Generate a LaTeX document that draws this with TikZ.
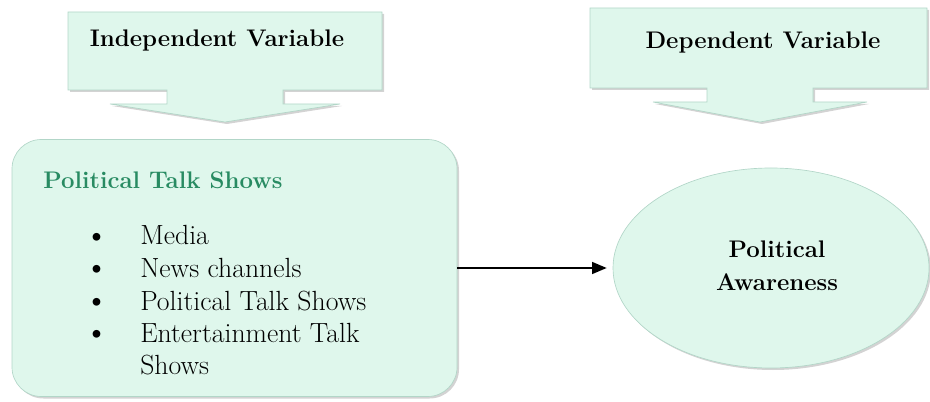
\documentclass[tikz,border=0pt]{standalone}
\usepackage{tikz}
\usepackage{xcolor}
\usetikzlibrary{arrows.meta,positioning,shapes.geometric,shadows}
\definecolor{mintFill}{RGB}{223,247,236}
\definecolor{mintEdge}{RGB}{178,214,200}
\definecolor{titleGreen}{RGB}{40,139,98}
\tikzset{
  panel/.style={fill=mintFill,draw=mintEdge,line width=.5pt,
    drop shadow={opacity=.35,shadow xshift=1.5pt,shadow yshift=-1.5pt}},
  headtxt/.style={font=\fontsize{18}{21}\selectfont\bfseries,inner sep=0pt},
  bodytxt/.style={font=\fontsize{20.8}{23.5}\selectfont,inner sep=0pt,anchor=base west,align=left}
}

\begin{document}
\begin{tikzpicture}[x=0.75pt,y=-0.75pt]
\useasboundingbox (0,0) rectangle (930,402);
% callouts on top
\path[panel] (68,12) -- (382,12) -- (382,90) -- (283,90) -- (283,104) -- (340,104)
  -- (225,122) -- (110,104) -- (167,104) -- (167,90) -- (68,90) -- cycle;
\path[panel] (590,8) -- (927,8) -- (927,88) -- (813,88) -- (813,102) -- (867,102)
  -- (760,122) -- (653,102) -- (707,102) -- (707,88) -- (590,88) -- cycle;
\node[headtxt,anchor=base] (indep) at (217,47) {Independent Variable};
\node[headtxt,anchor=base] (dep) at (763,49) {Dependent Variable};
% boxes
\node[panel,rounded corners=22pt,minimum width=333.75pt,minimum height=192.75pt] (shows) at (234.5,268) {};
\node[panel,ellipse,minimum width=237pt,minimum height=150pt,inner sep=0pt] (aware) at (771,268) {};
\node[headtxt,text=titleGreen,anchor=base west] (showsTitle) at (43,189) {Political Talk Shows};
\foreach \txt/\ypos [count=\i] in {Media/245,News channels/277,Political Talk Shows/310,Entertainment Talk/342,Shows/374}{
  \node[bodytxt] (item\i) at (140,\ypos) {\txt};
}
\foreach \ypos [count=\i] in {245,277,310,342}
  \node[bodytxt,anchor=base] (dot\i) at (97,\ypos) {\raisebox{-1pt}{\scalebox{1.25}{\textbullet}}};
\node[headtxt,align=center,font=\fontsize{18}{25}\selectfont\bfseries] (awareTxt) at (777,266) {Political\\Awareness};
% link
\draw[-{Triangle[length=11pt,width=9pt]},line width=1.2pt,shorten >=4.5pt] (shows) -- (aware);
\end{tikzpicture}
\end{document}
